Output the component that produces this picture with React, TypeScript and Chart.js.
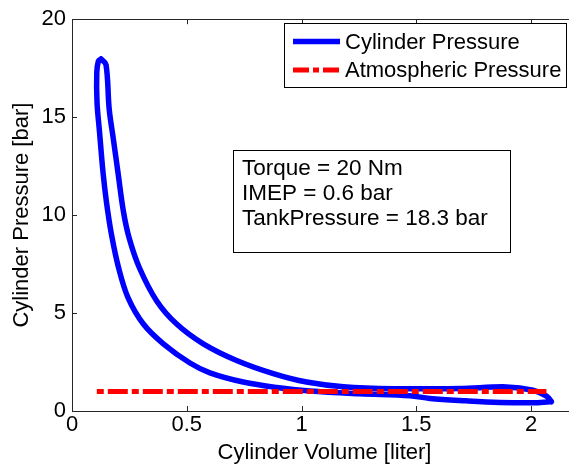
import React, { useEffect, useRef } from "react";
import { Chart, registerables } from "chart.js";

Chart.register(...registerables);

// ---- data ----
const cylinderVolume = [
  0.126, 0.148, 0.162, 0.18, 0.2, 0.224, 0.249, 0.294, 0.369, 0.456, 0.572, 0.717, 0.877, 1.022, 1.182, 1.399,
  1.69, 1.893, 2.008, 2.067, 2.089, 2.082, 2.008, 1.864, 1.719, 1.559, 1.472, 1.254, 1.037, 0.892, 0.746, 0.601,
  0.514, 0.398, 0.311, 0.244, 0.203, 0.172, 0.15, 0.135, 0.12, 0.109, 0.108, 0.115, 0.126,
];
const cylinderPressure = [
  17.97, 17.69, 15.41, 13.89, 12.2, 10.18, 8.83, 7.3, 5.62, 4.44, 3.43, 2.58, 1.91, 1.48, 1.24, 1.14,
  1.15, 1.23, 1.06, 0.76, 0.47, 0.47, 0.42, 0.44, 0.52, 0.64, 0.78, 0.88, 1.02, 1.2, 1.48, 1.95,
  2.45, 3.43, 4.44, 5.79, 7.31, 9.01, 10.68, 12.2, 14.23, 15.75, 17.27, 17.86, 17.97,
];
const atmVolume = [0.108, 2.067];
const atmPressure = [1, 1];

const seriesLabels = ["Cylinder Pressure", "Atmospheric Pressure"];
const annotationLines = ["Torque = 20 Nm", "IMEP = 0.6 bar", "TankPressure = 18.3 bar"];
const xTicks = [0, 0.5, 1, 1.5, 2];
const yTicks = [0, 5, 10, 15, 20];
const xTitle = "Cylinder Volume [liter]";
const yTitle = "Cylinder Pressure [bar]";

const FONT = '"Liberation Sans", Arial, Helvetica, sans-serif';
const BLUE = "rgb(0,0,255)";
const RED = "rgb(255,0,0)";
const AXIS = "#262626";

const matlabPlugin = {
  id: "matlabDecor",
  afterDraw(chart: any) {
    const { ctx, chartArea } = chart;
    const xs = chart.scales.x;
    const ys = chart.scales.y;
    const { left, right, top, bottom } = chartArea;
    ctx.save();
    // axes box
    ctx.strokeStyle = AXIS;
    ctx.lineWidth = 1;
    ctx.beginPath();
    ctx.rect(Math.round(left) + 0.5, Math.round(top) + 0.5, Math.round(right - left), Math.round(bottom - top));
    ctx.stroke();
    // inward ticks
    const tl = 5;
    ctx.beginPath();
    xTicks.forEach((v) => {
      const px = Math.round(xs.getPixelForValue(v)) + 0.5;
      ctx.moveTo(px, bottom);
      ctx.lineTo(px, bottom - tl);
      ctx.moveTo(px, top);
      ctx.lineTo(px, top + tl);
    });
    yTicks.forEach((v) => {
      const py = Math.round(ys.getPixelForValue(v)) + 0.5;
      ctx.moveTo(left, py);
      ctx.lineTo(left + tl, py);
      ctx.moveTo(right, py);
      ctx.lineTo(right - tl, py);
    });
    ctx.stroke();

    // legend box
    const lx = 284.5, ly = 23.5, lw = 282, lh = 64;
    ctx.fillStyle = "#fff";
    ctx.fillRect(lx, ly, lw, lh);
    ctx.strokeStyle = "#000";
    ctx.strokeRect(lx, ly, lw, lh);
    const rows = [41.5, 70];
    ctx.lineCap = "butt";
    // blue sample
    ctx.strokeStyle = BLUE;
    ctx.lineWidth = 5.5;
    ctx.setLineDash([]);
    ctx.beginPath();
    ctx.moveTo(293, rows[0]);
    ctx.lineTo(340, rows[0]);
    ctx.stroke();
    // red sample
    ctx.strokeStyle = RED;
    ctx.lineWidth = 5;
    ctx.setLineDash([16, 4, 6, 4]);
    ctx.beginPath();
    ctx.moveTo(293, rows[1]);
    ctx.lineTo(340, rows[1]);
    ctx.stroke();
    ctx.setLineDash([]);
    ctx.fillStyle = "#000";
    ctx.font = `22px ${FONT}`;
    ctx.textBaseline = "middle";
    ctx.textAlign = "left";
    seriesLabels.forEach((t, i) => ctx.fillText(t, 345, rows[i] + 1));

    // annotation box
    const bx = 233.5, by = 150.5, bw = 277, bh = 102;
    ctx.fillStyle = "#fff";
    ctx.fillRect(bx, by, bw, bh);
    ctx.strokeStyle = "#000";
    ctx.lineWidth = 1;
    ctx.strokeRect(bx, by, bw, bh);
    ctx.fillStyle = "#000";
    ctx.font = `22.5px ${FONT}`;
    annotationLines.forEach((t, i) => ctx.fillText(t, 242, 169 + i * 25));
    ctx.restore();
  },
};

export default function App() {
  const ref = useRef<HTMLCanvasElement>(null);
  useEffect(() => {
    if (!ref.current) return;
    const chart = new Chart(ref.current, {
      type: "scatter",
      data: {
        datasets: [
          {
            label: seriesLabels[0],
            data: cylinderVolume.map((v, i) => ({ x: v, y: cylinderPressure[i] })),
            showLine: true,
            borderColor: BLUE,
            backgroundColor: BLUE,
            borderWidth: 5.5,
            pointRadius: 0,
            tension: 0.35,
            borderJoinStyle: "round",
            borderCapStyle: "round",
            order: 1,
          },
          {
            label: seriesLabels[1],
            data: atmVolume.map((v, i) => ({ x: v, y: atmPressure[i] })),
            showLine: true,
            borderColor: RED,
            backgroundColor: RED,
            borderWidth: 5,
            pointRadius: 0,
            borderDash: [7, 4, 20, 4],
            borderCapStyle: "butt",
            order: 0,
          },
        ],
      },
      options: {
        responsive: false,
        animation: false,
        devicePixelRatio: 1,
        layout: { padding: { top: 16, right: 23, left: 0, bottom: 0 } },
        plugins: { legend: { display: false }, tooltip: { enabled: false } },
        scales: {
          x: {
            type: "linear",
            min: 0,
            max: 2.2,
            afterBuildTicks: (s: any) => {
              s.ticks = xTicks.map((v) => ({ value: v }));
            },
            afterFit: (s: any) => {
              s.height = 57;
            },
            grid: { display: false, drawTicks: false },
            border: { display: false },
            ticks: {
              padding: 1,
              color: "#000",
              font: { family: FONT, size: 22 },
              maxRotation: 0,
              autoSkip: false,
              callback: (v: any) => String(v),
            },
            title: {
              display: true,
              text: xTitle,
              color: "#000",
              font: { family: FONT, size: 22 },
              padding: { top: 0, bottom: 2 },
            },
          },
          y: {
            type: "linear",
            min: 0,
            max: 20,
            afterBuildTicks: (s: any) => {
              s.ticks = yTicks.map((v) => ({ value: v }));
            },
            afterFit: (s: any) => {
              s.width = 72;
            },
            grid: { display: false, drawTicks: false },
            border: { display: false },
            ticks: {
              padding: 6,
              color: "#000",
              font: { family: FONT, size: 22 },
              autoSkip: false,
              callback: (v: any) => String(v),
            },
            title: {
              display: true,
              text: yTitle,
              color: "#000",
              font: { family: FONT, size: 22 },
              padding: { top: 9, bottom: 0 },
            },
          },
        },
      },
      plugins: [matlabPlugin],
    });
    return () => chart.destroy();
  }, []);
  return (
    <div style={{ position: "fixed", left: 0, top: 0, width: 569, height: 468, overflow: "hidden", background: "#fff" }}>
      <canvas ref={ref} width={600} height={468} style={{ display: "block" }} />
    </div>
  );
}
